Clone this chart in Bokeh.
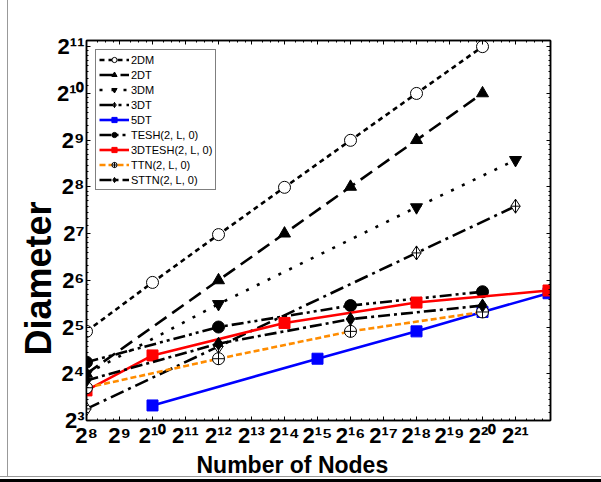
from bokeh.plotting import figure
from bokeh.models import Range1d, FixedTicker, LogAxis, Legend, LegendItem, Title
from bokeh.embed import file_html
from bokeh.resources import INLINE

# ---------------- data ----------------
x_tick_exp = [8, 9, 10, 11, 12, 13, 14, 15, 16, 17, 18, 19, 20, 21]
y_tick_exp = [3, 4, 5, 6, 7, 8, 9, 10, 11]

n_2dm = [2**8, 2**10, 2**12, 2**14, 2**16, 2**18, 2**20]
d_2dm = [30, 62, 126, 254, 510, 1022, 2046]

n_2dt = [2**8, 2**12, 2**14, 2**16, 2**18, 2**20]
d_2dt = [16, 64, 128, 256, 512, 1024]

n_3dm = [2**8, 2**12, 2**18, 2**21]
d_3dm = [16, 45, 189, 381]

n_3dt = [2**8, 2**12, 2**18, 2**21]
d_3dt = [9.5, 24, 96, 192]

n_5dt = [2**10, 2**15, 2**18, 2**20, 2**22]
d_5dt = [10, 20, 30, 40, 52.8]

n_tesh = [2**8, 2**12, 2**16, 2**20]
d_tesh = [19, 32, 44, 54]

n_3dtesh = [2**8, 2**10, 2**14, 2**18, 2**22]
d_3dtesh = [12.5, 21, 34, 46, 55]

n_ttn = [2**8, 2**12, 2**16, 2**20]
d_ttn = [13, 20, 30, 40]

n_sttn = [2**8, 2**12, 2**16, 2**20]
d_sttn = [14.5, 25, 36, 44]

x_title = "Number of Nodes"
y_title = "Diameter"

SUP = str.maketrans("0123456789", "⁰¹²³⁴⁵⁶⁷⁸⁹")
FONT = "Liberation Sans"

p = figure(width=601, height=482, x_axis_type="log", y_axis_type="log",
           x_range=Range1d(2**8, 2**22.06), y_range=Range1d(2**3, 2**11.13),
           output_backend="svg", toolbar_location=None,
           min_border_left=86, min_border_right=51, min_border_top=40,
           min_border_bottom=62)
p.grid.visible = False
p.outline_line_color = "black"
p.outline_line_width = 1.5
p.border_fill_color = None
p.background_fill_color = "white"
p.styles = {"box-shadow": "inset 0 -3px 0 0 #000, inset 0 -5px 0 0 #fff, "
                          "inset 0 -6px 0 0 #999, inset 7px 0 0 0 #fff, "
                          "inset 8px 0 0 0 #999"}

x_major = [2**e for e in x_tick_exp]
y_major = [2**e for e in y_tick_exp]
x_minor = [2**e * (1 + k / 4) for e in range(8, 23) for k in range(1, 4)]
y_minor = [2**e * (1 + k / 8) for e in range(3, 12) for k in range(1, 8)]

xt = FixedTicker(ticks=x_major, minor_ticks=x_minor)
yt = FixedTicker(ticks=y_major, minor_ticks=y_minor)

def style_axis(ax, ticker, labels=True):
    ax.ticker = ticker
    ax.axis_line_width = 1.5
    ax.major_tick_in = 4
    ax.major_tick_out = 0
    ax.minor_tick_in = 2
    ax.minor_tick_out = 0
    ax.major_label_text_font = FONT
    ax.major_label_text_font_style = "bold"
    ax.major_label_text_font_size = "22px"
    ax.major_label_text_color = "black"
    if not labels:
        ax.major_label_text_font_size = "6px"
        ax.major_label_text_color = None
        ax.major_label_standoff = 0

style_axis(p.xaxis[0], xt)
style_axis(p.yaxis[0], yt)
p.xaxis[0].major_label_overrides = {2**e: "2" + str(e).translate(SUP) for e in x_tick_exp}
p.yaxis[0].major_label_overrides = {2**e: "2" + str(e).translate(SUP) for e in y_tick_exp}
p.xaxis[0].major_label_standoff = 2
p.yaxis[0].major_label_standoff = 2

ax_top = LogAxis()
ax_right = LogAxis()
style_axis(ax_top, xt, labels=False)
style_axis(ax_right, yt, labels=False)
p.add_layout(ax_top, "above")
p.add_layout(ax_right, "right")

# axis titles as side titles so they can sit off-centre like the reference
p.add_layout(Title(text=x_title, align="left", offset=110, standoff=-2,
                   text_font=FONT, text_font_style="bold", text_font_size="23px",
                   text_color="black"), "below")
p.add_layout(Title(text=y_title, align="left", offset=65, standoff=-10,
                   text_font=FONT, text_font_style="bold", text_font_size="36px",
                   text_color="black"), "left")

LW = 2.6
items = []

def series(label, xs, ys, line_color, dash, marker, fill, size=11, lw=LW):
    r1 = p.line(xs, ys, line_color=line_color, line_width=lw, line_dash=dash)
    r2 = p.scatter(xs, ys, marker=marker, size=size, fill_color=fill,
                   line_color="black" if fill != line_color else fill, line_width=1)
    items.append(LegendItem(label=label, renderers=[r1, r2]))

series("2DM", n_2dm, d_2dm, "black", "5 4", "circle", "white", 12)
series("2DT", n_2dt, d_2dt, "black", "14 7", "triangle", "black", 12)
series("3DM", n_3dm, d_3dm, "black", "3 9", "inverted_triangle", "black", 12)
series("3DT", n_3dt, d_3dt, "black", "14 5 3 5", "diamond_cross", "white", 14)
series("5DT", n_5dt, d_5dt, "blue", "solid", "square", "blue", 11)
series("TESH(2, L, 0)", n_tesh, d_tesh, "black", "12 4 3 4 3 4", "circle", "black", 12)
series("3DTESH(2, L, 0)", n_3dtesh, d_3dtesh, "red", "solid", "square", "red", 11)
series("TTN(2, L, 0)", n_ttn, d_ttn, "#ff8c00", "6 3", "circle_cross", "white", 12)
series("STTN(2, L, 0)", n_sttn, d_sttn, "black", "12 4 3 4", "diamond", "black", 13)

leg = Legend(items=items, location="top_left")
leg.label_text_font = FONT
leg.label_text_font_size = "11px"
leg.label_text_color = "black"
leg.label_height = 13
leg.glyph_height = 13
leg.glyph_width = 30
leg.spacing = 2
leg.padding = 3
leg.margin = 9
leg.label_standoff = 2
leg.border_line_color = "black"
leg.border_line_width = 1
leg.background_fill_alpha = 1
p.add_layout(leg)

open("out.html", "w").write(file_html(p, INLINE))
